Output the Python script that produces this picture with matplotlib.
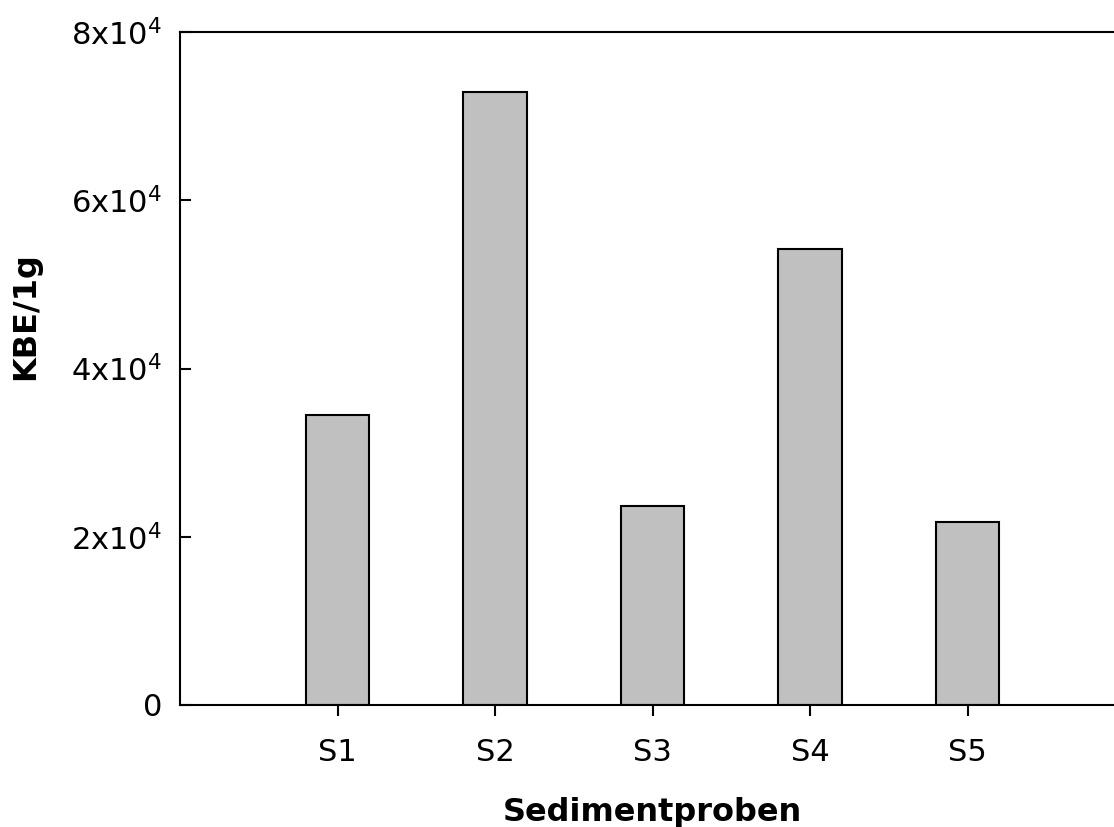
import matplotlib
matplotlib.use("Agg")
import matplotlib.pyplot as plt

categories = ["S1", "S2", "S3", "S4", "S5"]
values = [34500, 72900, 23650, 54200, 21750]
yticks = [0, 20000, 40000, 60000, 80000]
ytick_labels = ["0", "2x10$^4$", "4x10$^4$", "6x10$^4$", "8x10$^4$"]

plt.rcParams['font.family'] = ['DejaVu Sans']
plt.rcParams['mathtext.default'] = 'regular'

fig = plt.figure(figsize=(11.14, 8.27), dpi=100)
ax = fig.add_axes([180/1114, (827-705)/827, 945/1114, (705-32)/827])

x = list(range(1, len(categories) + 1))
ax.bar(x, values, width=0.405, color="#c0c0c0", edgecolor="black", linewidth=1.5)

ax.set_xlim(0, 6)
ax.set_ylim(0, 80000)
ax.set_xticks(x)
ax.set_xticklabels(categories, fontsize=22)
ax.set_yticks(yticks)
ax.set_yticklabels(ytick_labels, fontsize=22)

ax.tick_params(axis='y', direction='in', length=8, width=1.5, pad=13)
ax.tick_params(axis='x', direction='out', length=8, width=1.5, pad=16)
for s in ['left', 'bottom', 'top']:
    ax.spines[s].set_linewidth(1.5)
ax.spines['right'].set_visible(False)

ax.set_xlabel("Sedimentproben", fontsize=23, fontweight='bold')
ax.set_ylabel("KBE/1g", fontsize=23, fontweight='bold')
ax.xaxis.set_label_coords(0.5, -0.136)
ax.yaxis.set_label_coords(-0.147, 0.578)

fig.savefig("out.png", dpi=100)
